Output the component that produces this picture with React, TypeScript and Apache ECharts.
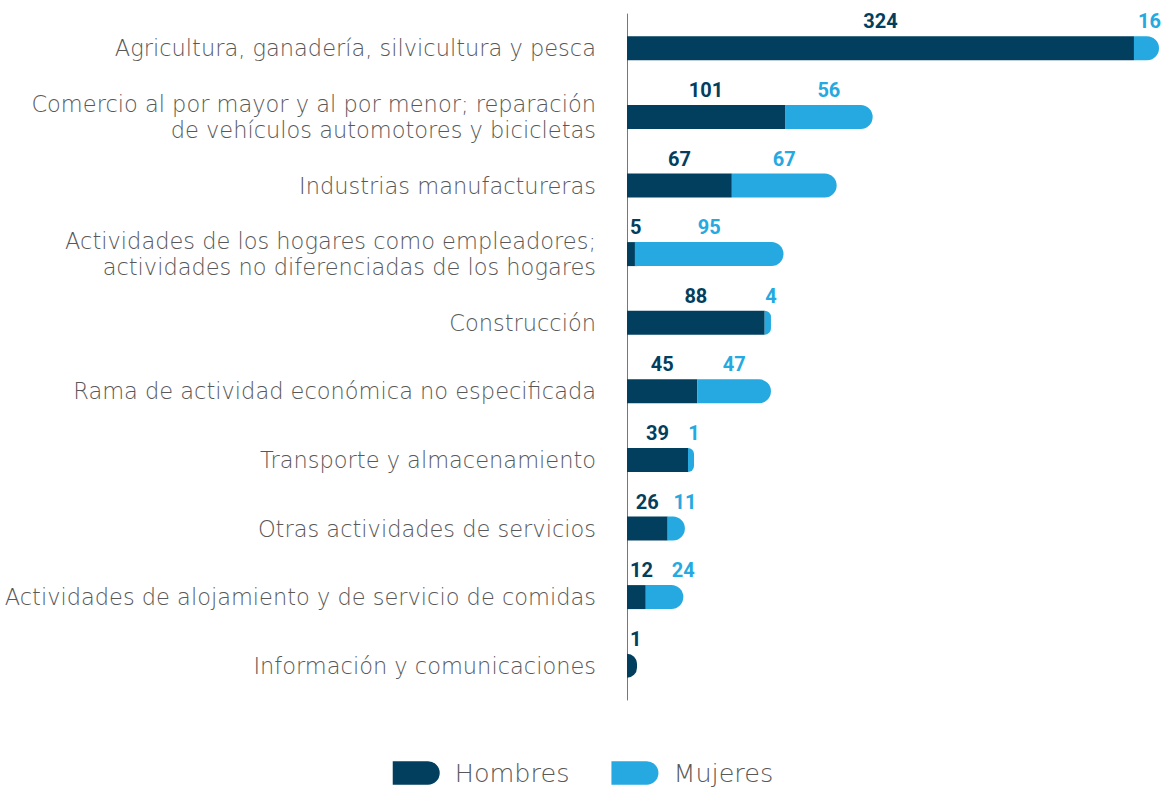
import React, { useEffect, useRef } from "react";
import * as echarts from "echarts";

const categories = [
  "Agricultura, ganadería, silvicultura y pesca",
  "Comercio al por mayor y al por menor; reparación\nde vehículos automotores y bicicletas",
  "Industrias manufactureras",
  "Actividades de los hogares como empleadores;\nactividades no diferenciadas de los hogares",
  "Construcción",
  "Rama de actividad económica no especificada",
  "Transporte y almacenamiento",
  "Otras actividades de servicios",
  "Actividades de alojamiento y de servicio de comidas",
  "Información y comunicaciones",
];
const hombres = [324, 101, 67, 5, 88, 45, 39, 26, 12, 1];
const mujeres = [16, 56, 67, 95, 4, 47, 1, 11, 24, 0];

const DARK = "#023f5f";
const LIGHT = "#25a9e0";
const TEXT = "#585858";
const FONT = "'DejaVu Sans', 'Open Sans', sans-serif";
const NUMFONT = "Roboto, 'Open Sans', sans-serif";

export default function App() {
  const ref = useRef<HTMLDivElement>(null);
  useEffect(() => {
    if (!ref.current) return;
    const chart = echarts.init(ref.current, null, { renderer: "svg" });
    const radius = 12;
    const AXIS_X = 627;
    const RIGHT_LIMIT = 1161;
    const clampHombres = (params: any) => {
      const r = params.labelRect;
      if (r && r.x < AXIS_X + 3) {
        return { x: AXIS_X + 3, y: r.y, align: "left", verticalAlign: "top" };
      }
      return {};
    };
    const placeMujeres = (params: any) => {
      const r = params.labelRect;
      const bar = params.rect;
      if (!r || !bar) return {};
      if (bar.width < 40) {
        let cx = bar.x + bar.width;
        if (cx + r.width / 2 > RIGHT_LIMIT) cx = RIGHT_LIMIT - r.width / 2;
        return { x: cx, y: r.y, align: "center", verticalAlign: "top" };
      }
      return {};
    };
    const valueLabel = (color: string) => ({
      show: true,
      position: "top",
      distance: 5,
      color,
      fontSize: 20,
      fontWeight: "bold",
      fontFamily: NUMFONT,
      formatter: (p: any) => (p.value ? String(p.value) : ""),
    });
    chart.setOption({
      animation: false,
      textStyle: { fontFamily: FONT },
      grid: { left: AXIS_X, width: 532, top: 14, height: 686, containLabel: false },
      xAxis: {
        type: "value",
        min: 0,
        max: 340,
        show: false,
      },
      yAxis: {
        type: "category",
        data: categories,
        inverse: true,
        axisLine: { show: true, lineStyle: { color: "#777", width: 1 } },
        axisTick: { show: false },
        axisLabel: {
          fontSize: 22.5,
          fontWeight: 200,
          color: TEXT,
          lineHeight: 26,
          margin: 31,
          align: "right",
          fontFamily: FONT,
        },
      },
      legend: {
        bottom: 0,
        left: "center",
        itemWidth: 47,
        itemHeight: 24,
        itemGap: 42,
        icon: "path://M0,0 L36,0 A12,12 0 0 1 36,24 L0,24 Z",
        textStyle: {
          fontSize: 25.5,
          fontWeight: 200,
          color: TEXT,
          fontFamily: FONT,
          padding: [0, 0, 0, 10],
        },
        data: ["Hombres", "Mujeres"],
      },
      series: [
        {
          name: "Hombres",
          type: "bar",
          stack: "total",
          barWidth: 24,
          barMinHeight: 10,
          itemStyle: { color: DARK },
          data: hombres.map((v, i) => ({
            value: v,
            itemStyle: mujeres[i] === 0 ? { borderRadius: [0, radius, radius, 0] } : undefined,
          })),
          label: valueLabel(DARK),
          labelLayout: clampHombres,
        },
        {
          name: "Mujeres",
          type: "bar",
          stack: "total",
          barWidth: 24,
          barMinHeight: 6,
          itemStyle: { color: LIGHT, borderRadius: [0, radius, radius, 0] },
          data: mujeres.map((v) => (v === 0 ? null : v)),
          label: valueLabel(LIGHT),
          labelLayout: placeMujeres,
        },
      ],
    });
    return () => chart.dispose();
  }, []);
  return (
    <div
      ref={ref}
      style={{ position: "fixed", left: 0, top: 0, width: 1166, height: 791, background: "#fff" }}
    />
  );
}
